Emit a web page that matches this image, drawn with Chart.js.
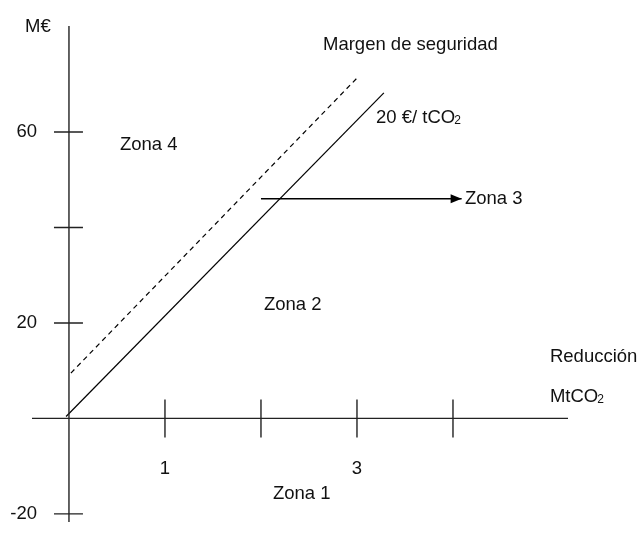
<!DOCTYPE html>
<html>
<head>
<meta charset="utf-8">
<script src="https://cdn.jsdelivr.net/npm/chart.js@4"></script>
<style>
  html, body { margin: 0; padding: 0; background: #fff; }
  canvas { display: block; }
</style>
</head>
<body>
<canvas id="myChart" width="642" height="545"></canvas>
<script>
// values
var xTicks = [1, 2, 3, 4];
var xTickLabels = ['1', '', '3', ''];
var yTicks = [60, 40, 20, -20];
var yTickLabels = ['60', '', '20', '-20'];

// 20 €/tCO2 line and the safety-margin line (MtCO2, M€)
var priceX = [-0.03, 3.28];
var priceY = [0.4, 68.2];
var marginX = [0.02, 3.01];
var marginY = [9.5, 71.5];

// arrow towards Zona 3
var arrowX = [2.0, 4.09];
var arrowY = [46.0, 46.0];

var noteTexts = ['M€', 'Zona 4', 'Margen de seguridad', '20 €/ tCO', 'Zona 3', 'Zona 2', 'Reducción', 'MtCO', 'Zona 1'];
var noteSubs = ['', '', '', '2', '', '', '', '2', ''];
var noteX = [-0.458, 0.531, 2.646, 3.198, 4.125, 2.031, 5.01, 5.01, 2.125];
var noteY = [82.0, 57.3, 78.2, 62.9, 46.0, 23.8, 12.9, 4.5, -15.8];

var FONT = '18.5px "Liberation Sans", Arial, sans-serif';
var SUBFONT = '12px "Liberation Sans", Arial, sans-serif';

function pts(xs, ys) {
    return xs.map(function (x, i) { return { x: x, y: ys[i] }; });
}

var axesPlugin = {
    id: 'crossAxes',
    afterDatasetsDraw: function (chart) {
        var ctx = chart.ctx;
        var xs = chart.scales.x, ys = chart.scales.y;
        var x0 = xs.getPixelForValue(0), y0 = ys.getPixelForValue(0);
        var area = chart.chartArea;

        ctx.save();
        ctx.strokeStyle = '#222';
        ctx.lineWidth = 1.4;
        ctx.beginPath();
        ctx.moveTo(area.left, y0); ctx.lineTo(area.right, y0);
        ctx.moveTo(x0, area.top); ctx.lineTo(x0, area.bottom);
        // crossing tick marks
        xTicks.forEach(function (t) {
            var px = xs.getPixelForValue(t);
            ctx.moveTo(px, y0 - 19); ctx.lineTo(px, y0 + 19);
        });
        yTicks.forEach(function (t) {
            var py = ys.getPixelForValue(t);
            ctx.moveTo(x0 - 15, py); ctx.lineTo(x0 + 14, py);
        });
        ctx.stroke();

        // arrowhead at the end of the arrow dataset
        var tx = xs.getPixelForValue(arrowX[1]), ty = ys.getPixelForValue(arrowY[1]);
        ctx.fillStyle = '#000';
        ctx.beginPath();
        ctx.moveTo(tx, ty);
        ctx.lineTo(tx - 11, ty - 4.5);
        ctx.lineTo(tx - 11, ty + 4.5);
        ctx.closePath();
        ctx.fill();

        // tick labels
        ctx.fillStyle = '#111';
        ctx.font = FONT;
        ctx.textBaseline = 'middle';
        ctx.textAlign = 'center';
        xTicks.forEach(function (t, i) {
            if (xTickLabels[i]) ctx.fillText(xTickLabels[i], xs.getPixelForValue(t), y0 + 50);
        });
        ctx.textAlign = 'right';
        yTicks.forEach(function (t, i) {
            if (yTickLabels[i]) ctx.fillText(yTickLabels[i], x0 - 32, ys.getPixelForValue(t));
        });

        // notes
        ctx.textAlign = 'left';
        noteTexts.forEach(function (txt, i) {
            var px = xs.getPixelForValue(noteX[i]), py = ys.getPixelForValue(noteY[i]);
            ctx.font = FONT;
            ctx.fillText(txt, px, py);
            if (noteSubs[i]) {
                var w = ctx.measureText(txt).width;
                ctx.font = SUBFONT;
                ctx.fillText(noteSubs[i], px + w - 1, py + 3);
            }
        });
        ctx.restore();
    }
};

var ctx = document.getElementById('myChart').getContext('2d');
var chart = new Chart(ctx, {
    type: 'scatter',
    data: {
        datasets: [{
            data: pts(priceX, priceY),
            showLine: true,
            borderColor: '#000',
            borderWidth: 1.2,
            pointRadius: 0
        }, {
            data: pts(marginX, marginY),
            showLine: true,
            borderColor: '#000',
            borderWidth: 1.2,
            borderDash: [5, 4],
            pointRadius: 0
        }, {
            data: pts(arrowX, arrowY),
            showLine: true,
            borderColor: '#000',
            borderWidth: 1.6,
            pointRadius: 0
        }]
    },
    options: {
        responsive: false,
        animation: false,
        layout: { padding: { left: 32, right: 74, top: 26, bottom: 23 } },
        plugins: { legend: { display: false }, tooltip: { enabled: false } },
        scales: {
            x: { type: 'linear', display: false, min: -0.385, max: 5.198 },
            y: { type: 'linear', display: false, min: -21.7, max: 82.2 }
        }
    },
    plugins: [axesPlugin]
});
</script>
</body>
</html>
